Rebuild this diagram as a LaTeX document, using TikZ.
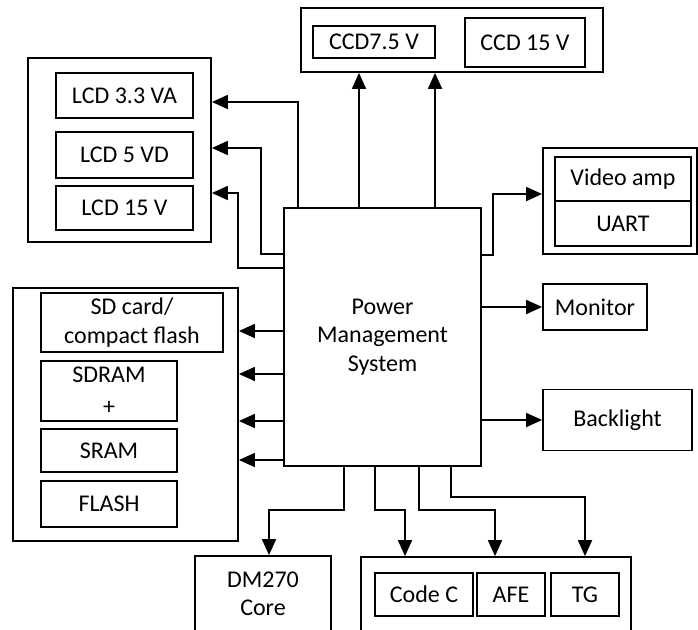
\documentclass[tikz,border=0pt]{standalone}
\usepackage{fontspec}
\setmainfont{Carlito}
\usetikzlibrary{arrows.meta}

\tikzset{
	blk/.style={draw, line width=1.8pt, inner sep=0pt, align=center},
	sz/.style 2 args={minimum width=#1pt, minimum height=#2pt},
	wire/.style={->, line width=1.8pt},
}

\begin{document}
\begin{tikzpicture}[x=1pt, y=-1pt, >={Triangle[length=16pt,width=14pt]}, font=\fontsize{24pt}{28.5pt}\selectfont]
	\useasboundingbox (0,0) rectangle (698,629);
	\clip (0,0) rectangle (698,629);
	% power management
	\node[blk, sz={197}{258}] (pm) at (382.5,337) {Power\\Management\\System};
	% lcd supplies
	\node[blk, sz={183}{184}] (lcd) at (119.5,150) {};
	\node[blk, sz={137}{45}] (lcda) at (124.5,95.5) {LCD 3.3 VA};
	\node[blk, sz={137}{46}] (lcdb) at (124.5,155) {LCD 5 VD};
	\node[blk, sz={137}{44}] (lcdc) at (124.5,208) {LCD 15 V};
	% ccd supplies
	\node[blk, sz={302}{64}] (ccd) at (452,40) {};
	\node[blk, sz={122}{32}] (ccda) at (374,42) {CCD7.5 V};
	\node[blk, sz={120}{49}] (ccdb) at (525,42.5) {CCD 15 V};
	% right side
	\node[blk, sz={154}{106}] (vid) at (620,201) {};
	\node[blk, sz={136}{44}] (vamp) at (623,179) {Video amp};
	\node[blk, sz={136}{45}] (uart) at (623,223.5) {UART};
	\node[blk, sz={104}{46}] (mon) at (595,307) {Monitor};
	\node[blk, sz={149}{61}] (bkl) at (617.5,420) {Backlight};
	% memories
	\node[blk, sz={225}{253}] (mem) at (125.5,414.5) {};
	\node[blk, sz={182}{59}] (sd) at (132,322.5) {SD card/\\compact flash};
	\node[blk, sz={136}{60}] (sdram) at (109,391) {SDRAM\\[3.5pt]+};
	\node[blk, sz={136}{43}] (sram) at (109,450.5) {SRAM};
	\node[blk, sz={136}{46}] (flash) at (109,504) {FLASH};
	% bottom
	\node[blk, sz={136}{76}] (dm) at (263,594) {DM270\\Core};
	\node[blk, sz={270}{77}] (afebox) at (496,595.5) {};
	\node[blk, sz={98}{43}] (codec) at (424,594.5) {Code C};
	\node[blk, sz={68}{43}] (afe) at (511,594.5) {AFE};
	\node[blk, sz={68}{43}] (tg) at (585,594.5) {TG};

	% bend points
	\coordinate (la) at (298,102);
	\coordinate (lb1) at (261,254);
	\coordinate (lb2) at (261,148);
	\coordinate (lc1) at (238,268);
	\coordinate (lc2) at (238,193);
	\coordinate (ca) at (359,0);
	\coordinate (cb) at (435,0);
	\coordinate (v1) at (493,255);
	\coordinate (v2) at (493,194);
	\coordinate (m1) at (0,331);
	\coordinate (m2) at (0,374);
	\coordinate (m3) at (0,421);
	\coordinate (m4) at (0,460);
	\coordinate (d1) at (344,510);
	\coordinate (d2) at (269,510);
	\coordinate (e1) at (375,510);
	\coordinate (e2) at (405,510);
	\coordinate (f1) at (419,510);
	\coordinate (f2) at (495,510);
	\coordinate (g1) at (451,497);
	\coordinate (g2) at (585,497);

	% connectors
	\draw[wire] (la |- pm.north) -- (la) -- (la -| lcd.east);
	\draw[wire] (lb1 -| pm.west) -- (lb1) -- (lb2) -- (lb2 -| lcd.east);
	\draw[wire] (lc1 -| pm.west) -- (lc1) -- (lc2) -- (lc2 -| lcd.east);
	\draw[wire] (ca |- pm.north) -- (ca |- ccd.south);
	\draw[wire] (cb |- pm.north) -- (cb |- ccd.south);
	\draw[wire] (v1 -| pm.east) -- (v1) -- (v2) -- (v2 -| vid.west);
	\draw[wire] (pm.east |- mon.west) -- (mon.west);
	\draw[wire] (pm.east |- bkl.west) -- (bkl.west);
	\draw[wire] (m1 -| pm.west) -- (m1 -| mem.east);
	\draw[wire] (m2 -| pm.west) -- (m2 -| mem.east);
	\draw[wire] (m3 -| pm.west) -- (m3 -| mem.east);
	\draw[wire] (m4 -| pm.west) -- (m4 -| mem.east);
	\draw[wire] (d1 |- pm.south) -- (d1) -- (d2) -- (d2 |- dm.north);
	\draw[wire] (e1 |- pm.south) -- (e1) -- (e2) -- (e2 |- afebox.north);
	\draw[wire] (f1 |- pm.south) -- (f1) -- (f2) -- (f2 |- afebox.north);
	\draw[wire] (g1 |- pm.south) -- (g1) -- (g2) -- (g2 |- afebox.north);
\end{tikzpicture}
\end{document}
